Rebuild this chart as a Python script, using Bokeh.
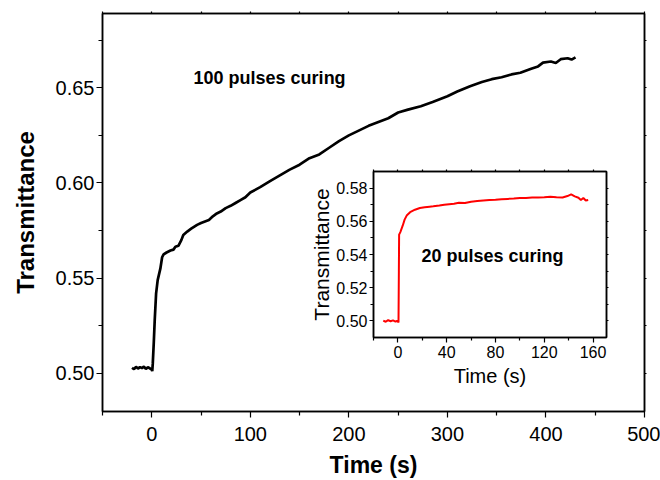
from bokeh.plotting import figure
from bokeh.models import LinearAxis, FixedTicker, NumeralTickFormatter
from bokeh.layouts import column
from bokeh.core.properties import value
from bokeh.embed import file_html
from bokeh.resources import INLINE

FONT = "Liberation Sans"

# ---- main series: 100 pulses curing ----
main_t = [-20, -18, -16, -14, -12, -10, -8, -6, -4, -2, 0, 0.5, 1, 2, 3, 4.4, 6, 8.7,
          10.5, 12, 15, 19, 22, 24, 27, 30, 32, 36, 40, 46, 50, 54, 58, 62, 66, 70,
          75, 80, 85, 90, 95, 100, 110, 120, 130, 140, 150, 160, 170, 180, 190, 200,
          210, 220, 230, 240, 250, 260, 273, 285, 300, 310, 323, 335, 345, 355, 365,
          374, 385, 392, 397, 405, 410, 415, 422, 426, 430]
main_T = [0.5030, 0.5022, 0.5035, 0.5025, 0.5033, 0.5028, 0.5036, 0.5024, 0.5032, 0.5027,
          0.5020, 0.5012, 0.5050, 0.5158, 0.5280, 0.5420, 0.5490, 0.5550,
          0.5610, 0.5625, 0.5635, 0.5645, 0.5650, 0.5665, 0.5670, 0.5700, 0.5727, 0.5745,
          0.5760, 0.5780, 0.5790, 0.5798, 0.5806, 0.5825, 0.5840, 0.5850,
          0.5868, 0.5880, 0.5895, 0.5910, 0.5925, 0.5950, 0.5978, 0.6010, 0.6040, 0.6070,
          0.6096, 0.6130, 0.6150, 0.6185, 0.6220, 0.6250,
          0.6275, 0.6300, 0.6320, 0.6340, 0.6370, 0.6385, 0.6403, 0.6425, 0.6455, 0.6480,
          0.6508, 0.6530, 0.6545, 0.6555, 0.6570,
          0.6579, 0.6600, 0.6612, 0.6632, 0.6638, 0.6630, 0.6650, 0.6655, 0.6648, 0.6660]

# ---- inset series: 20 pulses curing ----
ins_t = [-12, -10, -8, -6, -4, -2, 0, 0.5, 0.8, 1, 2, 4, 5.5, 7.4, 10, 14, 18, 22, 26, 29,
         34, 38, 42, 46, 50, 55, 60, 65, 70, 75, 80, 85, 90, 95, 100, 105, 110, 115, 120,
         125, 130, 135, 139, 142, 145, 148, 150, 152, 154, 156]
ins_T = [0.5002, 0.4995, 0.5005, 0.4998, 0.5003, 0.4996, 0.5001, 0.4990, 0.5300, 0.5520,
         0.5535, 0.5575, 0.5610, 0.5637, 0.5655, 0.5670, 0.5680, 0.5685, 0.5688, 0.5690,
         0.5695, 0.5700, 0.5703, 0.5706, 0.5712, 0.5710, 0.5718, 0.5722, 0.5725, 0.5728,
         0.5730, 0.5733, 0.5735, 0.5737, 0.5740, 0.5741, 0.5743, 0.5744, 0.5745,
         0.5748, 0.5745, 0.5743, 0.5752, 0.5762, 0.5750, 0.5742, 0.5728, 0.5740, 0.5725, 0.5728]

main_xticks = [0, 100, 200, 300, 400, 500]
main_xminor = [-50, 50, 150, 250, 350, 450]
main_yticks = [0.50, 0.55, 0.60, 0.65]
main_yminor = [0.525, 0.575, 0.625, 0.675]
ins_xticks = [0, 40, 80, 120, 160]
ins_xminor = [-20, 20, 60, 100, 140]
ins_yticks = [0.50, 0.52, 0.54, 0.56, 0.58]
ins_yminor = [0.51, 0.53, 0.55, 0.57]

main_label = "100 pulses curing"
ins_label = "20 pulses curing"


def style_axis(ax, size, bold=False, title_size=None):
    ax.axis_line_color = "black"
    ax.axis_line_width = 1.5
    ax.major_tick_line_width = 1.2
    ax.minor_tick_line_width = 1.2
    ax.major_tick_in = 0
    ax.minor_tick_in = 0
    ax.major_label_text_font = FONT
    ax.major_label_text_font_size = size
    ax.major_label_text_color = "black"
    ax.axis_label_text_font = FONT
    ax.axis_label_text_color = "black"
    ax.axis_label_text_font_style = "bold" if bold else "normal"
    if title_size:
        ax.axis_label_text_font_size = title_size


def blank_axis(ax, ticks, out):
    # only minor ticks -> tick marks without any labels
    ax.ticker = FixedTicker(ticks=[], minor_ticks=ticks)
    ax.axis_line_color = "black"
    ax.axis_line_width = 1.5
    ax.major_tick_in = 0
    ax.major_tick_out = 0
    ax.minor_tick_in = 0
    ax.minor_tick_out = out
    ax.minor_tick_line_width = 1.2
    ax.major_label_standoff = 0


# ================= main figure =================
p = figure(width=660, height=480, output_backend="svg", toolbar_location=None,
           x_range=(-50, 500), y_range=(0.48, 0.689),
           min_border_left=102, min_border_right=16, min_border_top=13, min_border_bottom=69)
p.grid.visible = False
p.outline_line_color = "black"
p.outline_line_width = 1.5
p.background_fill_color = "white"

xa = p.xaxis[0]
xa.ticker = FixedTicker(ticks=main_xticks, minor_ticks=main_xminor)
style_axis(xa, "20px", bold=True, title_size="23px")
xa.axis_label = "Time (s)"
xa.major_tick_out = 6
xa.minor_tick_out = 4
xa.major_label_standoff = 9
xa.axis_label_standoff = 8

ya = p.yaxis[0]
ya.ticker = FixedTicker(ticks=main_yticks, minor_ticks=main_yminor)
ya.formatter = NumeralTickFormatter(format="0.00")
style_axis(ya, "20px", bold=True, title_size="24px")
ya.axis_label = "Transmittance"
ya.major_tick_out = 6
ya.minor_tick_out = 4
ya.major_label_standoff = 2
ya.axis_label_standoff = 14

top = LinearAxis()
blank_axis(top, main_xticks + main_xminor, 2)
p.add_layout(top, "above")
right = LinearAxis()
blank_axis(right, main_yticks + main_yminor, 2)
p.add_layout(right, "right")

p.line(main_t, main_T, line_color="black", line_width=2.7)
p.text(x=[42.4], y=[0.6549], text=[main_label], text_font=value(FONT), text_font_style="bold",
       text_font_size="18px", text_baseline="middle", text_align="left", text_color="black")

# ================= inset figure =================
# a column aligns the frames of its plots, so the inset gets the same side borders
q = figure(width=351, height=223, output_backend="svg", toolbar_location=None,
           x_range=(-20, 171), y_range=(0.49, 0.59),
           min_border_left=102, min_border_right=16, min_border_top=5, min_border_bottom=48,
           styles={"position": "absolute", "left": "271px", "top": "166px"})
q.grid.visible = False
q.outline_line_color = "black"
q.outline_line_width = 1.5
q.background_fill_color = "white"
q.border_fill_alpha = 0

qx = q.xaxis[0]
qx.ticker = FixedTicker(ticks=ins_xticks, minor_ticks=ins_xminor)
style_axis(qx, "16px", title_size="20px")
qx.axis_label = "Time (s)"
qx.major_tick_out = 5
qx.minor_tick_out = 3
qx.major_label_standoff = 3
qx.axis_label_standoff = 4

qy = q.yaxis[0]
qy.ticker = FixedTicker(ticks=ins_yticks, minor_ticks=ins_yminor)
qy.formatter = NumeralTickFormatter(format="0.00")
style_axis(qy, "16px", title_size="21px")
qy.axis_label = "Transmittance"
qy.major_tick_out = 4
qy.minor_tick_out = 3
qy.major_label_standoff = 2
qy.axis_label_standoff = 0

qt = LinearAxis()
blank_axis(qt, ins_xticks + ins_xminor, 2)
q.add_layout(qt, "above")
qr = LinearAxis()
blank_axis(qr, ins_yticks + ins_yminor, 2)
q.add_layout(qr, "right")

q.line(ins_t, ins_T, line_color="#ff0000", line_width=2)
q.text(x=[19.4], y=[0.5392], text=[ins_label], text_font=value(FONT), text_font_style="bold",
       text_font_size="18px", text_baseline="middle", text_align="left", text_color="black")

layout = column(p, q)
open("out.html", "w").write(file_html(layout, INLINE))
